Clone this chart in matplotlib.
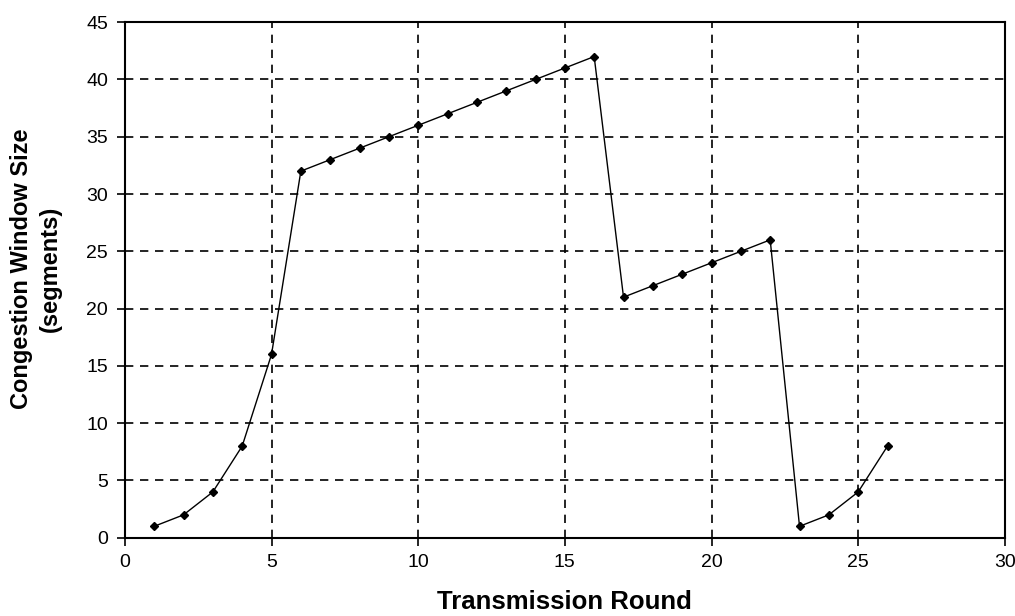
import matplotlib
matplotlib.use("Agg")
import matplotlib.pyplot as plt

plt.rcParams['font.family'] = ['Liberation Sans', 'DejaVu Sans']

# TCP congestion window per transmission round
rounds = list(range(1, 27))
cwnd = [1, 2, 4, 8, 16, 32, 33, 34, 35, 36, 37, 38, 39, 40, 41, 42,
        21, 22, 23, 24, 25, 26, 1, 2, 4, 8]

fig = plt.figure(figsize=(10.15, 6.16), dpi=100)
ax = fig.add_axes([0.123, 0.127, 0.867, 0.837])

ax.plot(rounds, cwnd, color='black', linewidth=1.0, marker='D', markersize=4)

ax.set_xlim(0, 30)
ax.set_ylim(0, 45)
ax.set_xticks(range(0, 31, 5))
ax.set_yticks(range(0, 46, 5))
ax.grid(True, color='black', linestyle=(0, (5, 4)), linewidth=1.2)
ax.tick_params(direction='out', length=6, width=1.2, labelsize=14, pad=6)
for s in ax.spines.values():
    s.set_linewidth(1.5)

ax.set_xlabel("Transmission Round", fontsize=18.5, fontweight='bold', va='center')
ax.xaxis.set_label_coords(0.5, -0.125)
ax.set_ylabel("Congestion Window Size\n(segments)", fontsize=17,
              fontweight='bold', linespacing=1.35, va='center')
ax.yaxis.set_label_coords(-0.101, 0.521)

fig.savefig("out.png", dpi=100)
